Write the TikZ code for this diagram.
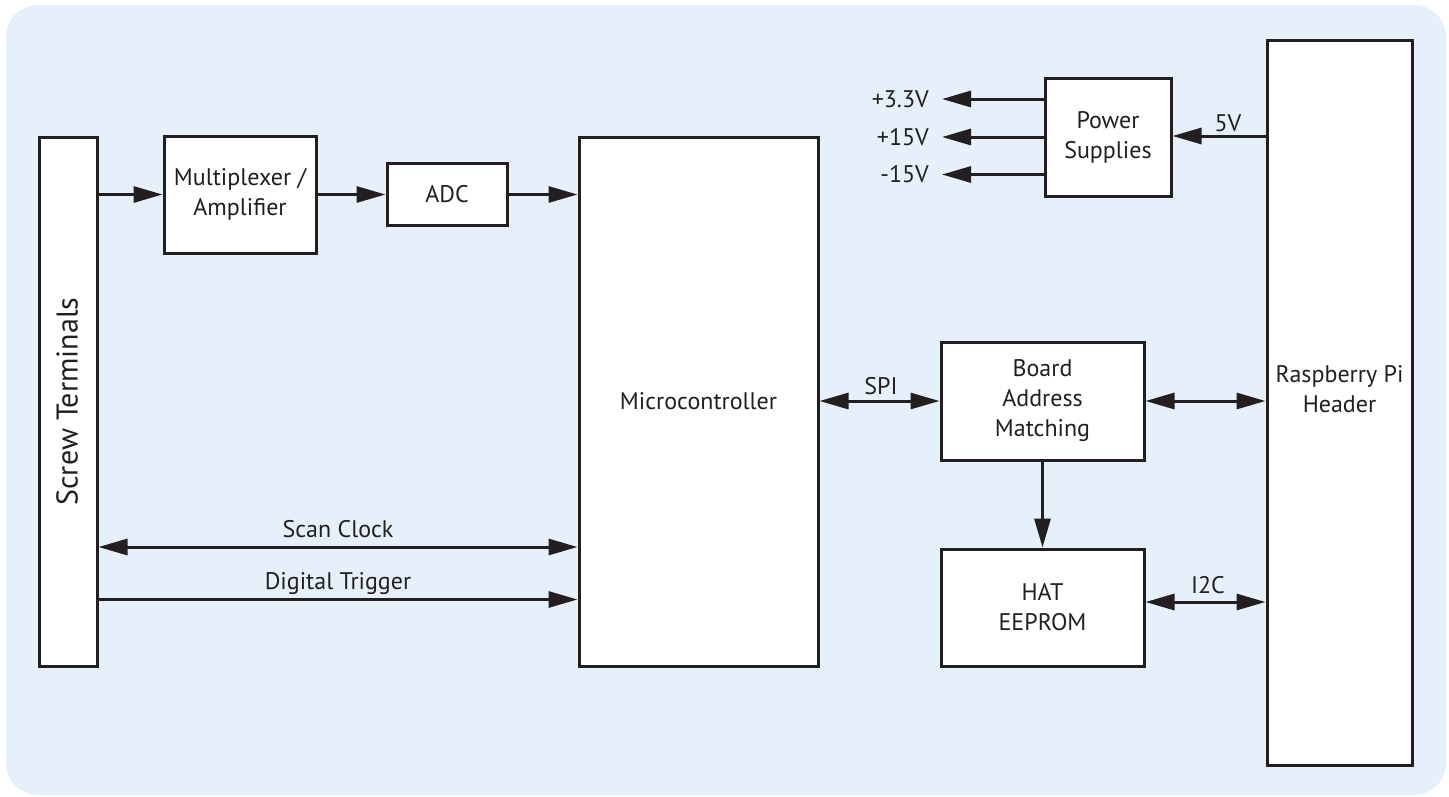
\documentclass[tikz,border=0pt]{standalone}
\usepackage{fontspec}
\setmainfont{PT Sans}
\usetikzlibrary{arrows.meta}
\definecolor{bgblue}{RGB}{229,240,250}
\definecolor{ink}{RGB}{35,31,32}
\begin{document}
\begin{tikzpicture}[x=1pt,y=-1pt,
  every node/.style={text=ink, font=\fontsize{24}{30}\selectfont},
  box/.style={draw=ink, line width=3pt, fill=white, inner sep=0pt, align=center},
  lbl/.style={inner sep=0pt, align=center},
  arr/.style={draw=ink, line width=3pt, -{Triangle[length=29pt,width=16pt]}},
  darr/.style={draw=ink, line width=3pt, {Triangle[length=29pt,width=16pt]}-{Triangle[length=29pt,width=16pt]}}]
\useasboundingbox (0,0) rectangle (1449,796);
\fill[bgblue, rounded corners=32pt] (6,5) rectangle (1446,795);

% boxes
\node[box, minimum width=58pt, minimum height=529pt] (screw) at (68,401.5) {};
\node[lbl, rotate=90, font=\fontsize{30}{36}\selectfont] (screwlbl) at (67,401.5) {Screw Terminals};
\node[box, minimum width=152pt, minimum height=117pt] (mux) at (240,194.5) {Multiplexer /\\Amplifier};
\node[box, minimum width=120pt, minimum height=62pt] (adc) at (447,194.5) {ADC};
\node[box, minimum width=239pt, minimum height=529pt] (micro) at (698.5,401.5) {Microcontroller};
\node[box, minimum width=126pt, minimum height=118pt] (ps) at (1108,137) {Power\\Supplies};
\node[box, minimum width=145pt, minimum height=725pt] (rpi) at (1339.5,402.5) {};
\node[lbl] (rpilbl) at (1339.5,389) {Raspberry Pi\\Header};
\node[box, minimum width=203pt, minimum height=118pt] (bam) at (1042.5,401) {Board\\Address\\Matching};
\node[box, minimum width=203pt, minimum height=117pt] (hat) at (1042.5,607.5) {HAT\\EEPROM};

% signal chain
\draw[arr] (screw.east |- mux.west) -- (mux.west);
\draw[arr] (mux.east) -- (adc.west |- mux.east);
\draw[arr] (adc.east) -- (micro.west |- adc.east);

% scan clock / trigger
\coordinate (scL) at (98,547);
\coordinate (dtL) at (98,599.5);
\draw[darr] (screw.east |- scL) -- (micro.west |- scL);
\draw[arr] (screw.east |- dtL) -- (micro.west |- dtL);
\node[lbl, anchor=base] (sclbl) at (338,537) {Scan Clock};
\node[lbl, anchor=base] (dtlbl) at (338,589) {Digital Trigger};

% SPI and board address
\draw[darr] (micro.east |- bam.west) -- (bam.west);
\node[lbl, anchor=base] (spilbl) at (881,394) {SPI};
\draw[darr] (bam.east) -- (rpi.west |- bam.east);
\draw[arr] (bam.south) -- (hat.north);

% I2C
\coordinate (i2cY) at (1200,602);
\draw[darr] (hat.east |- i2cY) -- (rpi.west |- i2cY);
\node[lbl, anchor=base] (i2clbl) at (1208,593) {I2C};

% power
\coordinate (v5) at (1200,136);
\draw[arr] (rpi.west |- v5) -- (ps.east |- v5);
\node[lbl, anchor=base] (v5lbl) at (1228,131.5) {5V};
\coordinate (o33) at (942,99);
\coordinate (o15) at (942,137);
\coordinate (om15) at (942,174.5);
\draw[arr] (ps.west |- o33) -- (o33);
\draw[arr] (ps.west |- o15) -- (o15);
\draw[arr] (ps.west |- om15) -- (om15);
\node[lbl, anchor=east] (l33) at (929,99) {+3.3V};
\node[lbl, anchor=east] (l15) at (929,137) {+15V};
\node[lbl, anchor=east] (lm15) at (929,174.5) {-15V};
\end{tikzpicture}
\end{document}
